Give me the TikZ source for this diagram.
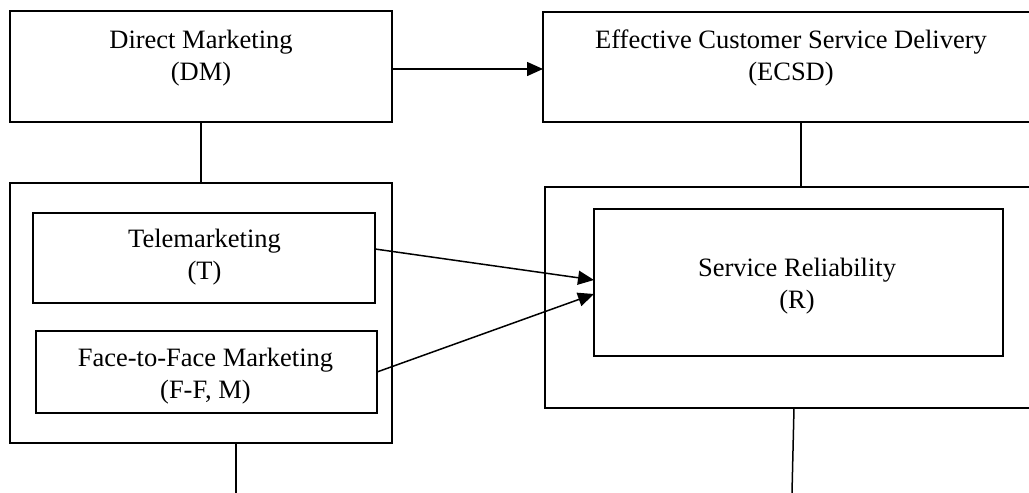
\documentclass[tikz,border=0pt]{standalone}
\usepackage{fontspec}
\setmainfont{Liberation Serif}
\usetikzlibrary{arrows.meta}
\begin{document}
\begin{tikzpicture}[x=1pt,y=-1pt,
  box/.style={draw=black,line width=1.5pt,minimum width=#1,inner sep=0pt,outer sep=0pt},
  lbl/.style={align=center,inner sep=0pt,font=\fontsize{26.5}{32}\selectfont},
  conn/.style={draw=black,line width=1.5pt},
  arr/.style={conn,-{Triangle[length=16pt,width=14pt]}}]
\useasboundingbox (0,0) rectangle (1029,493);
\clip (0,0) rectangle (1029,493);
% boxes
\node[box=382pt,minimum height=111pt] (dm) at (201,66.5) {};
\node[box=494pt,minimum height=110pt] (ecsd) at (790,67) {};
\node[box=382pt,minimum height=260pt] (lo) at (201,313) {};
\node[box=342pt,minimum height=90pt] (tm) at (204,258) {};
\node[box=341pt,minimum height=82pt] (ff) at (206.5,372) {};
\node[box=510pt,minimum height=221pt] (ro) at (800,297.5) {};
\node[box=409pt,minimum height=147pt] (sr) at (798.5,282.5) {};
% texts
\node[lbl] (dmt) at (201,58) {Direct Marketing\\(DM)};
\node[lbl] (ecsdt) at (791,57.5) {Effective Customer Service Delivery\\(ECSD)};
\node[lbl] (tmt) at (204.5,257) {Telemarketing\\(T)};
\node[lbl] (fft) at (205.5,376) {Face-to-Face Marketing\\(F-F, M)};
\node[lbl] (srt) at (797,286) {Service Reliability\\(R)};
% free ends
\coordinate (lend) at (236,493);
\coordinate (rend) at (792,493);
% connectors
\draw[arr] ([yshift=-2.5pt]dm.east) -- ([yshift=-2pt]ecsd.west);
\draw[conn] (dm.south) -- (lo.north);
\draw[conn] ([xshift=11pt]ecsd.south) -- ([xshift=11pt]ecsd.south |- ro.north);
\draw[arr] ([yshift=9pt]tm.east) -- ([yshift=2.5pt]sr.west);
\draw[arr] (ff.east) -- ([yshift=-11.5pt]sr.west);
\draw[conn] ([xshift=35pt]lo.south) -- (lend);
\draw[conn] ([xshift=-6pt]ro.south) -- (rend);
\end{tikzpicture}
\end{document}
